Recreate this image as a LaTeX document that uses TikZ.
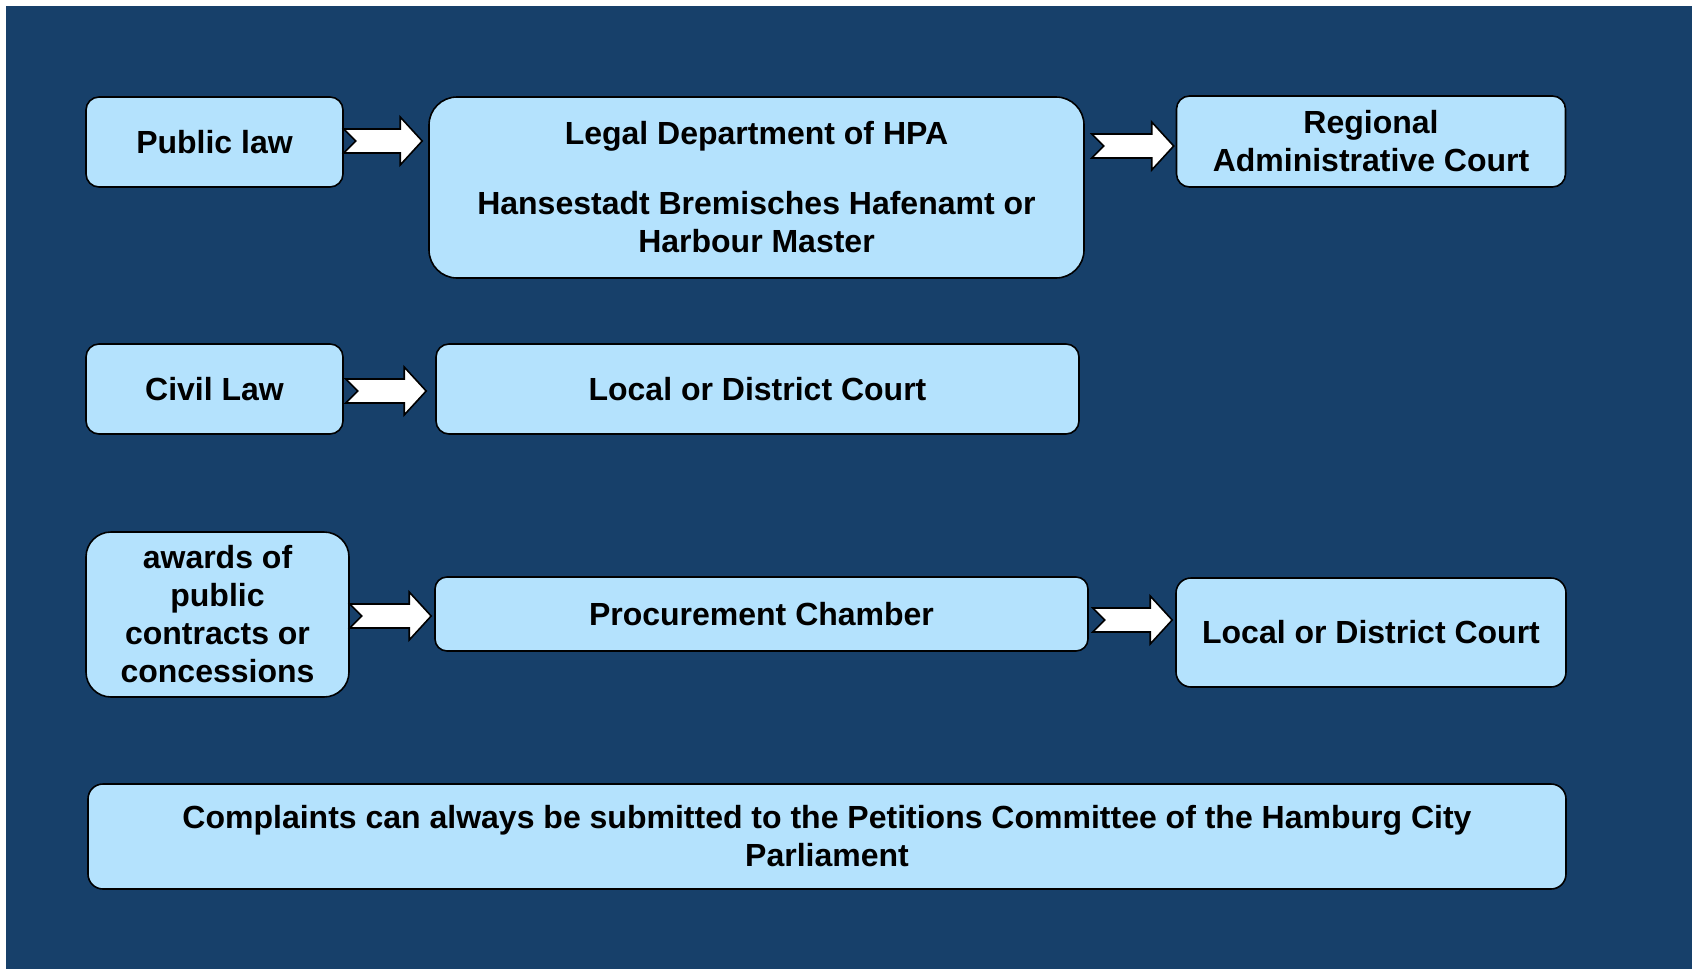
\documentclass[tikz,border=0pt]{standalone}
\usepackage{fontspec}
\setmainfont{Liberation Sans}
\usetikzlibrary{calc}
\definecolor{bgblue}{RGB}{23,64,106}
\definecolor{boxblue}{RGB}{180,226,253}
\tikzset{
  box/.style={draw=black, line width=0.8pt, fill=boxblue, rectangle, align=center,
    inner sep=0pt, font=\bfseries\fontsize{16}{19}\selectfont, text=black},
  fatarr/.style={draw=black, line width=0.8pt, fill=white, line join=miter}
}
\newcommand\fatarrow[2]{%
  \draw[fatarr] ([shift={(0,-12)}]#1) -- ([shift={(-22,-12)}]#2) -- ([shift={(-22,-24)}]#2)
    -- (#2) -- ([shift={(-22,24)}]#2) -- ([shift={(-22,12)}]#2) -- ([shift={(0,12)}]#1)
    -- ([shift={(12,0)}]#1) -- cycle;}
\begin{document}
\begin{tikzpicture}[x=0.5pt,y=-0.5pt]
\useasboundingbox (0,0) rectangle (1692,969);
\fill[white] (0,0) rectangle (1692,969);
\fill[bgblue] (6,6) rectangle (1692,969);

\node[box, minimum width=128.5pt, minimum height=45pt, rounded corners=6.5pt] (pub) at (214.5,142) {Public law};
\node[box, minimum width=327.5pt, minimum height=90.5pt, rounded corners=14pt] (legal) at (756.5,187.5)
  {Legal Department of HPA\\[16pt]Hansestadt Bremisches Hafenamt or\\Harbour Master};
\node[box, minimum width=194.5pt, minimum height=45.5pt, rounded corners=6.5pt] (reg) at (1371,141.5)
  {Regional\\Administrative Court};

\node[box, minimum width=128.5pt, minimum height=45pt, rounded corners=6.5pt] (civil) at (214.5,389) {Civil Law};
\node[box, minimum width=321.5pt, minimum height=45pt, rounded corners=6.5pt] (local1) at (757.5,389) {Local or District Court};

\node[box, minimum width=131.5pt, minimum height=82.5pt, rounded corners=12.5pt] (awards) at (217.5,614.5)
  {awards of\\public\\contracts or\\concessions};
\node[box, minimum width=326.5pt, minimum height=37pt, rounded corners=6pt] (proc) at (761.5,614) {Procurement Chamber};
\node[box, minimum width=195pt, minimum height=54.5pt, rounded corners=7.5pt] (local2) at (1371,632.5) {Local or District Court};

\node[box, minimum width=739pt, minimum height=52.5pt, rounded corners=7.5pt] (compl) at (827,836.5)
  {Complaints can always be submitted to the Petitions Committee of the Hamburg City\\Parliament};

\coordinate (a1s) at ($(pub.east)+(0,-1)$);
\coordinate (a1e) at ($(legal.west |- pub.east)+(-6,-1)$);
\coordinate (a2s) at ($(legal.east |- reg.east)+(7,4.5)$);
\coordinate (a2e) at ($(reg.west)+(-2,4.5)$);
\coordinate (a3s) at ($(civil.east)+(2,2)$);
\coordinate (a3e) at ($(local1.west)+(-9,2)$);
\coordinate (a4s) at ($(awards.east)+(0,1.5)$);
\coordinate (a4e) at ($(proc.west |- awards.east)+(-3,1.5)$);
\coordinate (a5s) at ($(proc.east)+(4,6)$);
\coordinate (a5e) at ($(local2.west |- proc.east)+(-3,6)$);

\fatarrow{a1s}{a1e}
\fatarrow{a2s}{a2e}
\fatarrow{a3s}{a3e}
\fatarrow{a4s}{a4e}
\fatarrow{a5s}{a5e}
\end{tikzpicture}
\end{document}
